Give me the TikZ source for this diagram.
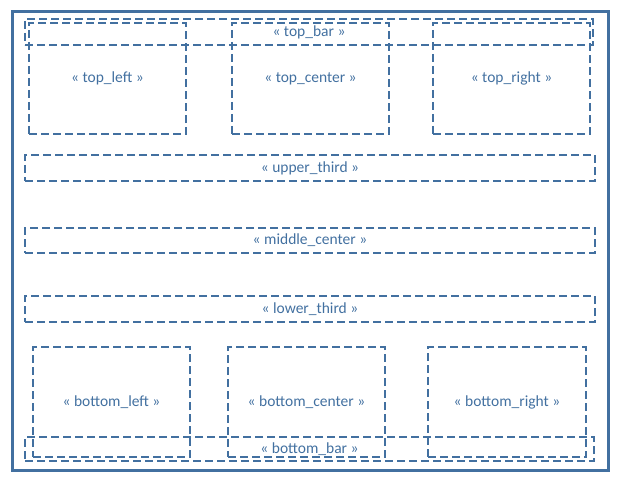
\documentclass[tikz,border=0pt]{standalone}
\usepackage{fontspec}
\setmainfont{Carlito}
\definecolor{framecol}{RGB}{66,112,160}
\tikzset{
  zone/.style={draw=framecol, dash pattern=on 8pt off 4pt, line width=1.3pt,
    rectangle, inner sep=0pt, text=framecol, font=\fontsize{15.5}{18}\selectfont},
}
\begin{document}
\begin{tikzpicture}[x=1pt,y=-1pt]
\useasboundingbox (0,0) rectangle (620,484);
\draw[framecol, line width=3pt] (12,12) rectangle (608,470);

\node[zone, minimum width=568, minimum height=26] (topbar) at (309,32) {« top\_bar »};
\node[zone, minimum width=157, minimum height=111] (topleft) at (107.5,78.5) {« top\_left »};
\node[zone, minimum width=157, minimum height=111] (topcenter) at (310.5,78.5) {« top\_center »};
\node[zone, minimum width=157, minimum height=111] (topright) at (511.5,78.5) {« top\_right »};

\node[zone, minimum width=570, minimum height=26] (upperthird) at (310,168) {« upper\_third »};
\node[zone, minimum width=570, minimum height=25] (middlecenter) at (310,240.5) {« middle\_center »};
\node[zone, minimum width=570, minimum height=26] (lowerthird) at (310,309) {« lower\_third »};

\node[zone, minimum width=157, minimum height=110] (bottomleft) at (111.5,402) {« bottom\_left »};
\node[zone, minimum width=157, minimum height=110] (bottomcenter) at (306.5,402) {« bottom\_center »};
\node[zone, minimum width=158, minimum height=110] (bottomright) at (507,402) {« bottom\_right »};
\node[zone, minimum width=569, minimum height=24] (bottombar) at (309.5,449) {« bottom\_bar »};
\end{tikzpicture}
\end{document}
